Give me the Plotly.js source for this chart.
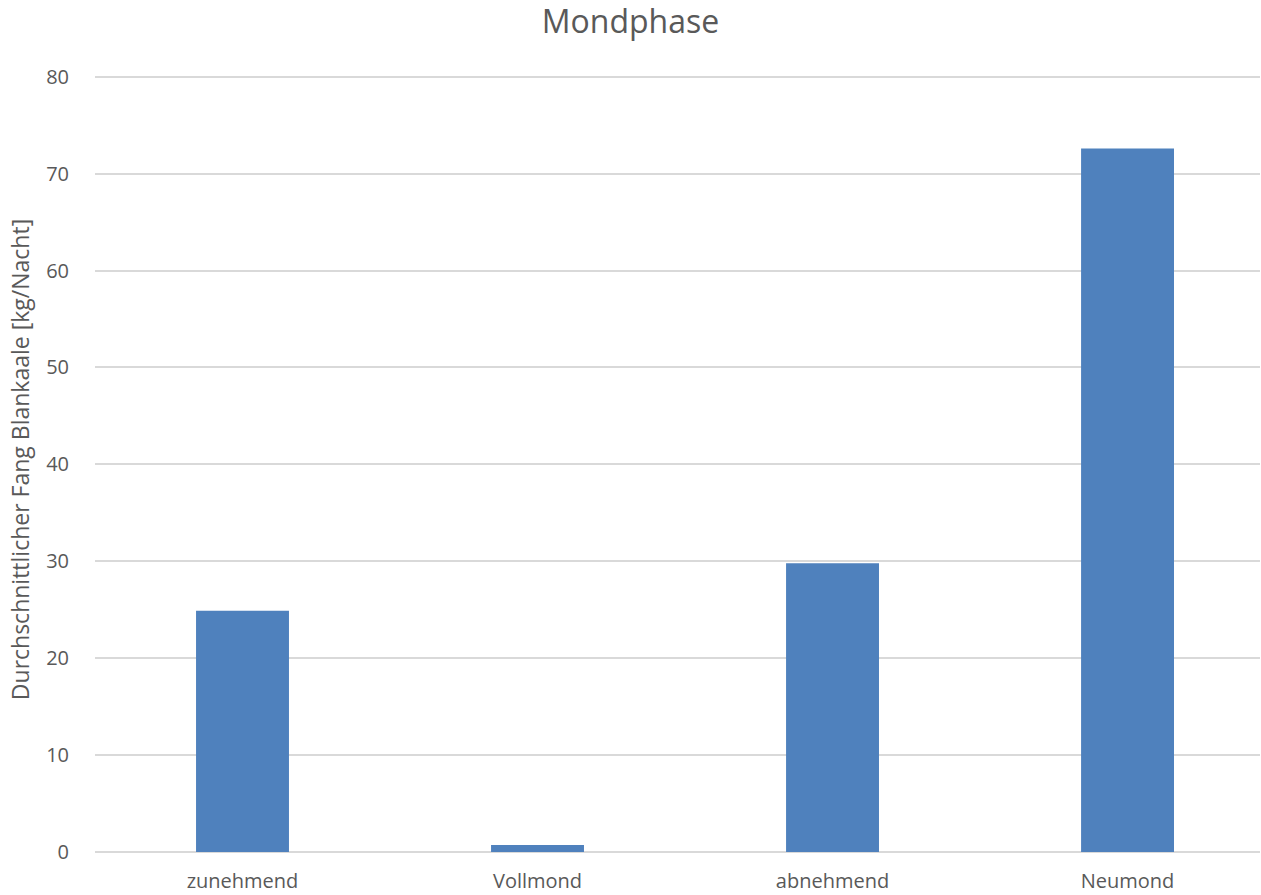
<!DOCTYPE html>
<html><head><meta charset="utf-8">
<script src="https://cdn.plot.ly/plotly-3.0.1.min.js"></script>
<style>html,body{margin:0;padding:0;background:#fff}#c{width:1261px;height:895px}</style>
</head><body><div id="c"></div>
<script>
const categories = ["zunehmend", "Vollmond", "abnehmend", "Neumond"];
const values = [24.9, 0.72, 29.8, 72.6];
const yTicks = [0, 10, 20, 30, 40, 50, 60, 70, 80];

const font = "Open Sans, Liberation Sans, sans-serif";
Plotly.newPlot("c", [{
  type: "bar", x: categories, y: values,
  marker: {color: "#4f81bd"}, hoverinfo: "x+y"
}], {
  width: 1261, height: 895,
  margin: {l: 95, r: 1, t: 66.8, b: 42.5},
  paper_bgcolor: "#fff", plot_bgcolor: "#fff",
  bargap: 0.685,
  title: {text: "Mondphase", x: 0.5, xanchor: "center", y: 0.9754, yanchor: "middle",
          font: {family: font, size: 32, color: "#595959"}},
  xaxis: {range: [-0.5, 3.449], tickfont: {family: font, size: 20, color: "#595959"}, showgrid: false,
          showline: false, zeroline: false, ticks: "outside", ticklen: 11, tickcolor: "rgba(0,0,0,0)", automargin: false},
  yaxis: {range: [0, 81], tickvals: yTicks, ticktext: yTicks.map(String),
          tickfont: {family: font, size: 20, color: "#595959"},
          gridcolor: "#d9d9d9", gridwidth: 1.5, zeroline: true, zerolinecolor: "#d9d9d9", zerolinewidth: 1.5,
          showline: false, ticks: "outside", ticklen: 21, tickcolor: "rgba(0,0,0,0)", automargin: false,
          title: {text: "Durchschnittlicher Fang Blankaale [kg/Nacht]", standoff: 10,
                  font: {family: font, size: 23, color: "#595959"}}},
  showlegend: false
}, {displayModeBar: false});
</script></body></html>
